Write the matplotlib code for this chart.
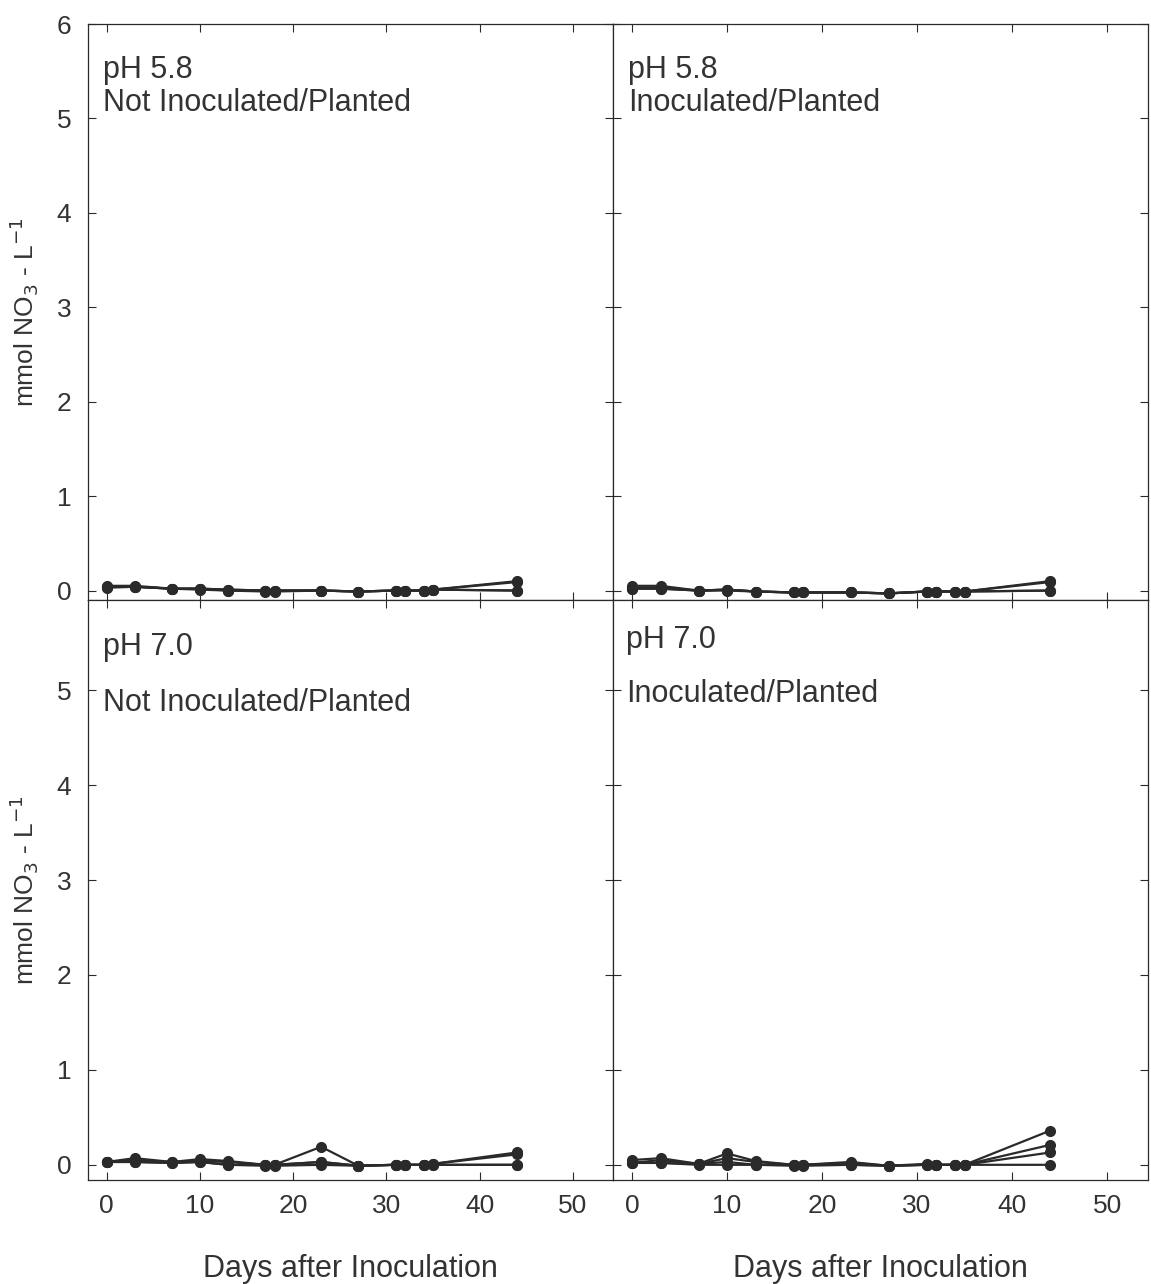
import matplotlib
matplotlib.use("Agg")
import matplotlib.pyplot as plt

plt.rcParams['font.family'] = ['Liberation Sans', 'DejaVu Sans']

# sampling days
days = [0, 3, 7, 10, 13, 17, 18, 23, 27, 31, 32, 34, 35, 44]

# pH 5.8, not inoculated / planted
a58_1 = [0.05, 0.05, 0.02, 0.02, 0.01, 0.00, 0.00, 0.00, -0.01, 0.00, 0.00, 0.00, 0.01, 0.10]
a58_2 = [0.04, 0.04, 0.02, 0.02, 0.01, 0.00, 0.00, 0.00, -0.01, 0.00, 0.00, 0.00, 0.01, 0.09]
a58_3 = [0.03, 0.04, 0.02, 0.02, 0.00, 0.00, 0.00, 0.00, -0.01, 0.00, 0.00, 0.00, 0.01, 0.00]
a58_4 = [0.04, 0.04, 0.02, 0.01, 0.00, -0.01, -0.01, 0.00, -0.01, 0.00, 0.00, 0.00, 0.01, 0.00]

# pH 5.8, inoculated / planted
b58_1 = [0.05, 0.05, 0.00, 0.01, -0.01, -0.02, -0.02, -0.02, -0.03, -0.01, -0.01, -0.01, -0.01, 0.10]
b58_2 = [0.02, 0.02, 0.00, 0.01, -0.01, -0.02, -0.02, -0.02, -0.03, -0.01, -0.01, -0.01, -0.01, 0.09]
b58_3 = [0.03, 0.03, 0.00, 0.01, -0.01, -0.02, -0.02, -0.02, -0.03, -0.01, -0.01, -0.01, -0.01, 0.00]
b58_4 = [0.02, 0.02, 0.00, 0.00, -0.01, -0.02, -0.02, -0.02, -0.03, -0.01, -0.01, -0.01, -0.01, 0.00]

# pH 7.0, not inoculated / planted
a70_1 = [0.03, 0.07, 0.03, 0.06, 0.04, 0.00, 0.00, 0.19, -0.01, 0.00, 0.00, 0.00, 0.01, 0.13]
a70_2 = [0.03, 0.05, 0.03, 0.04, 0.03, 0.00, 0.00, 0.03, -0.01, 0.00, 0.00, 0.00, 0.01, 0.11]
a70_3 = [0.03, 0.03, 0.02, 0.03, 0.00, 0.00, 0.00, 0.03, -0.01, 0.00, 0.00, 0.00, 0.00, 0.00]
a70_4 = [0.03, 0.03, 0.02, 0.03, 0.00, -0.01, -0.01, 0.00, -0.01, 0.00, 0.00, 0.00, 0.00, 0.00]

# pH 7.0, inoculated / planted
b70_1 = [0.05, 0.07, 0.01, 0.12, 0.04, 0.00, 0.00, 0.03, -0.01, 0.01, 0.00, 0.00, 0.00, 0.36]
b70_2 = [0.02, 0.05, 0.01, 0.07, 0.03, 0.00, 0.00, 0.02, -0.01, 0.00, 0.00, 0.00, 0.00, 0.21]
b70_3 = [0.02, 0.02, 0.01, 0.03, 0.00, 0.00, 0.00, 0.00, -0.01, 0.00, 0.00, 0.00, 0.00, 0.13]
b70_4 = [0.02, 0.02, 0.00, 0.00, 0.00, -0.01, -0.01, 0.00, -0.01, 0.00, 0.00, 0.00, 0.00, 0.00]

panels = [
    ("pH 5.8", "Not Inoculated/Planted", [a58_1, a58_2, a58_3, a58_4]),
    ("pH 5.8", "Inoculated/Planted", [b58_1, b58_2, b58_3, b58_4]),
    ("pH 7.0", "Not Inoculated/Planted", [a70_1, a70_2, a70_3, a70_4]),
    ("pH 7.0", "Inoculated/Planted", [b70_1, b70_2, b70_3, b70_4]),
]

fig = plt.figure(figsize=(11.51, 12.84), dpi=100)
L, M, R = 88 / 1151, 613 / 1151, 1148 / 1151
T, C, B = 1 - 24 / 1284, 1 - 600 / 1284, 1 - 1180 / 1284
rects = [
    [L, C, M - L, T - C],
    [M, C, R - M, T - C],
    [L, B, M - L, C - B],
    [M, B, R - M, C - B],
]

# where the two lines of each panel label sit (axes fraction)
label_pos = [
    (0.028, 0.906, 0.849),
    (0.028, 0.906, 0.849),
    (0.028, 0.905, 0.809),
    (0.024, 0.917, 0.824),
]

ink = '#2a2a2a'
txt = '#333333'
ylabel = r'mmol NO$_3$ - L$^{-1}$'

for i, (ph, treat, series) in enumerate(panels):
    ax = fig.add_axes(rects[i])
    for s in series:
        ax.plot(days, s, color=ink, lw=1.6, marker='o', ms=7,
                mfc=ink, mec=ink)
    ax.set_xlim(-2, 54.3)
    if i < 2:
        ax.set_ylim(-0.1, 6)
    else:
        ax.set_ylim(-0.16, 5.95)
    ax.set_xticks([0, 10, 20, 30, 40, 50])
    ax.set_yticks([0, 1, 2, 3, 4, 5, 6] if i < 2 else [0, 1, 2, 3, 4, 5])
    ax.tick_params(direction='in', top=True, right=True, length=6,
                   width=0.8, color=ink, labelsize=19, labelcolor=txt)
    ax.tick_params(axis='x', pad=10)
    ax.tick_params(axis='y', pad=12)
    for sp in ax.spines.values():
        sp.set_color(ink)
        sp.set_linewidth(0.9)
    if i % 2 == 1:
        ax.tick_params(labelleft=False)
    else:
        ax.set_ylabel(ylabel, fontsize=19, color=txt, labelpad=12)
    if i < 2:
        ax.tick_params(labelbottom=False)
    else:
        ax.set_xlabel('Days after Inoculation', fontsize=22,
                      color=txt, labelpad=26)

    x0, y1, y2 = label_pos[i]
    ax.text(x0, y1, ph, transform=ax.transAxes, fontsize=22, color=txt)
    ax.text(x0, y2, treat, transform=ax.transAxes, fontsize=22, color=txt)

fig.savefig('out.png', dpi=100)
